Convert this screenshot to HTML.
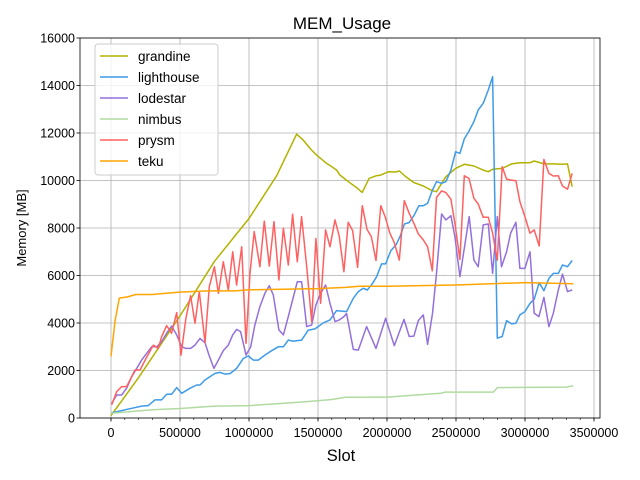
<!DOCTYPE html>
<html><head><meta charset="utf-8"><style>
body{margin:0;background:#fff;}
svg{display:block;font-family:"Liberation Sans","DejaVu Sans",sans-serif;}
</style></head><body>
<svg id="chart" width="640" height="480"></svg>
<script>
const xTicks=[0,500000,1000000,1500000,2000000,2500000,3000000,3500000];
const xTickLabels=["0","500000","1000000","1500000","2000000","2500000","3000000","3500000"];
const yTicks=[0,2000,4000,6000,8000,10000,12000,14000,16000];
const yTickLabels=["0","2000","4000","6000","8000","10000","12000","14000","16000"];
const seriesNames=["grandine","lighthouse","lodestar","nimbus","prysm","teku"];
const seriesColors=["#b2b200","#3d9be9","#9370db","#b0dba0","#ff6060","#ffa500"];

const grandineX=[0,200000,500000,750000,1000000,1200000,1345000,1393000,1450000,1490000,1562000,1600000,1635000,1659000,1720000,1780000,1820000,1870000,1920000,1950000,2010000,2060000,2090000,2130000,2195000,2263000,2328000,2359000,2427000,2497000,2560000,2630000,2697000,2734000,2765000,2835000,2903000,2963000,3036000,3067000,3137000,3205000,3272000,3308000,3342000];
const grandineY=[100,1700,4300,6600,8400,10200,11950,11700,11300,11070,10720,10580,10440,10230,9950,9700,9500,10090,10200,10220,10370,10360,10400,10190,9910,9770,9570,9530,10160,10510,10680,10610,10440,10370,10470,10510,10700,10750,10750,10820,10700,10700,10680,10700,9740];

const lighthouseX=[5000,77000,150000,222000,270000,318000,367000,403000,439000,476000,512000,572000,621000,645000,681000,717000,754000,790000,826000,862000,910000,959000,995000,1031000,1067000,1115000,1152000,1212000,1249000,1285000,1321000,1381000,1430000,1478000,1539000,1587000,1635000,1707000,1756000,1792000,1828000,1857000,1896000,1925000,1961000,1990000,2028000,2065000,2094000,2126000,2161000,2195000,2231000,2263000,2294000,2330000,2359000,2396000,2427000,2463000,2497000,2528000,2560000,2592000,2630000,2661000,2697000,2734000,2765000,2799000,2835000,2867000,2903000,2934000,2963000,2999000,3036000,3067000,3103000,3137000,3173000,3205000,3241000,3272000,3308000,3342000];
const lighthouseY=[220,310,410,500,520,760,760,1000,1000,1280,1040,1250,1390,1390,1600,1740,1880,1920,1850,1870,2090,2510,2610,2440,2440,2650,2790,3000,3000,3280,3240,3280,3700,3750,4010,4130,4520,4480,5040,5320,5460,5390,5670,5950,6490,6490,7050,7290,7640,8170,8230,8520,8940,8940,9040,9600,9950,9880,9950,10440,11210,11140,11750,12060,12480,12970,13250,13810,14370,3360,3430,4100,3960,3990,4340,4480,4830,5000,5700,5360,5880,6090,6090,6440,6370,6630];

const lodestarX=[5000,41000,77000,113000,150000,186000,222000,258000,295000,331000,367000,403000,439000,476000,512000,543000,577000,609000,645000,681000,710000,746000,778000,814000,850000,882000,910000,939000,978000,1012000,1043000,1079000,1115000,1147000,1176000,1217000,1249000,1285000,1316000,1350000,1381000,1418000,1454000,1485000,1519000,1555000,1587000,1623000,1654000,1688000,1707000,1756000,1792000,1852000,1920000,1990000,2053000,2123000,2161000,2195000,2227000,2263000,2294000,2330000,2359000,2396000,2427000,2463000,2492000,2528000,2596000,2630000,2661000,2697000,2734000,2765000,2799000,2830000,2867000,2896000,2934000,2963000,2999000,3036000,3067000,3101000,3137000,3173000,3205000,3241000,3272000,3308000,3342000];
const lodestarY=[620,970,970,1250,1740,2090,2440,2720,3000,3000,3210,3570,3870,3500,3000,2930,2930,3070,3350,3170,2650,2090,2440,2840,3070,3500,3730,3640,2650,3000,3920,4690,5250,5570,5180,3710,3500,4270,4970,5740,5740,3850,3920,4760,5250,5600,4830,4060,4130,4270,4400,2890,2860,3850,2930,4200,3050,4150,3430,3450,4100,4340,3100,4400,6090,8590,8340,8520,7640,5950,8480,6650,6370,8130,8170,6090,8480,6370,7000,7780,8240,6300,6300,7000,4410,4270,5080,3850,4410,5390,6060,5320,5390];

const nimbusX=[0,300000,500000,750000,1000000,1200000,1400000,1600000,1700000,2000000,2390000,2420000,2770000,2800000,3300000,3350000];
const nimbusY=[200,350,400,500,520,600,680,780,870,880,1040,1090,1090,1280,1300,1360];

const prysmX=[5000,41000,77000,113000,150000,174000,210000,258000,307000,343000,367000,403000,439000,476000,507000,543000,577000,609000,640000,681000,712000,749000,778000,814000,850000,882000,910000,947000,978000,1007000,1038000,1079000,1111000,1147000,1181000,1217000,1249000,1285000,1316000,1350000,1381000,1418000,1454000,1485000,1519000,1555000,1587000,1623000,1654000,1688000,1719000,1751000,1787000,1821000,1855000,1886000,1920000,1955000,1986000,2021000,2053000,2089000,2125000,2161000,2195000,2227000,2263000,2294000,2328000,2359000,2396000,2427000,2463000,2492000,2528000,2560000,2594000,2630000,2661000,2697000,2734000,2765000,2799000,2835000,2867000,2896000,2934000,2963000,2999000,3036000,3067000,3103000,3137000,3173000,3205000,3241000,3272000,3308000,3342000];
const prysmY=[550,1110,1320,1320,1740,2020,2020,2550,3070,2930,3420,3890,3570,4440,2650,4200,5150,3990,5320,3170,5530,6370,5250,6580,5390,7000,5600,7210,3140,6090,7850,6370,8290,6400,8270,5810,7990,6440,8580,6580,8480,6370,4060,7560,4830,7920,7210,8340,7640,6160,8240,7890,6340,8940,7940,7640,6630,8940,8480,7780,7380,6650,9150,8620,8200,7750,7500,7210,6200,9290,9560,9490,9210,8200,6680,10200,10090,9250,9010,8450,8450,7780,6650,10580,10060,10020,9990,9110,8480,7780,7920,7240,10890,10300,10190,10200,9770,9630,10300];

const tekuX=[0,30000,60000,120000,180000,300000,400000,500000,700000,900000,1000000,1500000,1700000,1800000,2000000,2500000,3000000,3350000];
const tekuY=[2600,4100,5050,5100,5200,5200,5250,5300,5350,5350,5400,5450,5500,5550,5550,5600,5700,5650];

const allX=[grandineX,lighthouseX,lodestarX,nimbusX,prysmX,tekuX];
const allY=[grandineY,lighthouseY,lodestarY,nimbusY,prysmY,tekuY];

const L=80,R=600,T=38,B=418;
const X0=111,XPER=69/500000;
function sx(v){return X0+v*XPER;}
function sy(v){return B-(v/16000)*(B-T);}
const NS="http://www.w3.org/2000/svg";
const svg=document.getElementById('chart');
function mk(tag,attrs,parent){const e=document.createElementNS(NS,tag);for(const k in attrs)e.setAttribute(k,attrs[k]);(parent||svg).appendChild(e);return e;}

const grid=mk('g',{});


xTicks.forEach(v=>{if(sx(v)<=R)mk('line',{x1:sx(v),x2:sx(v),y1:T,y2:B,stroke:'#b0b0b0','stroke-width':0.8},grid);});
yTicks.forEach(v=>mk('line',{x1:L,x2:R,y1:sy(v),y2:sy(v),stroke:'#b0b0b0','stroke-width':0.8},grid));

const plot=mk('g',{});


const clip=mk('clipPath',{id:'cp'});mk('rect',{x:L,y:T,width:R-L,height:B-T},clip);
seriesNames.forEach((n,i)=>{
  const pts=allX[i].map((x,j)=>sx(x).toFixed(1)+','+sy(allY[i][j]).toFixed(1)).join(' ');
  const pl=mk('polyline',{points:pts,fill:'none',stroke:seriesColors[i],'stroke-width':1.5,'stroke-linejoin':'round','clip-path':'url(#cp)'},plot);
  
  
});

mk('rect',{x:L,y:T,width:R-L,height:B-T,fill:'none',stroke:'#000','stroke-width':0.8});

const xa=mk('g',{});


for(let v=0;v<=3500000;v+=100000){const x=sx(v);if(x>R)break;mk('line',{x1:x,x2:x,y1:B,y2:B+2,stroke:'#000','stroke-width':0.6},xa);}
xTicks.forEach((v,i)=>{
  mk('line',{x1:sx(v),x2:sx(v),y1:B,y2:B+3.5,stroke:'#000','stroke-width':0.8},xa);
  const t=mk('text',{x:sx(v),y:B+19,'font-size':12.5,'text-anchor':'middle',fill:'#000'},xa);t.textContent=xTickLabels[i];
  
  
});
const ya=mk('g',{});


yTicks.forEach((v,i)=>{
  mk('line',{x1:L-3.5,x2:L,y1:sy(v),y2:sy(v),stroke:'#000','stroke-width':0.8},ya);
  const t=mk('text',{x:L-5,y:sy(v)+4.5,'font-size':12.5,'text-anchor':'end',fill:'#000'},ya);t.textContent=yTickLabels[i];
  
  
});
const title=mk('text',{x:342,y:29,'font-size':17,'text-anchor':'middle'});title.textContent='MEM_Usage';


const xl=mk('text',{x:341,y:461,'font-size':16.5,'text-anchor':'middle'});xl.textContent='Slot';


const yl=mk('text',{x:0,y:0,'font-size':13,'text-anchor':'middle',transform:'translate(26,228) rotate(-90)'});yl.textContent='Memory [MB]';



const lg=mk('g',{});


mk('rect',{x:95,y:44,width:123,height:131,rx:3,fill:'#fff','fill-opacity':0.8,stroke:'#ccc','stroke-width':1},lg);
seriesNames.forEach((n,i)=>{
  const y=56+i*21;
  const e=mk('g',{},lg);
  
  
  mk('line',{x1:100,x2:128,y1:y,y2:y,stroke:seriesColors[i],'stroke-width':1.5},e);
  const t=mk('text',{x:138,y:y+5,'font-size':13.5},e);t.textContent=n;
});
</script>
</body></html>
